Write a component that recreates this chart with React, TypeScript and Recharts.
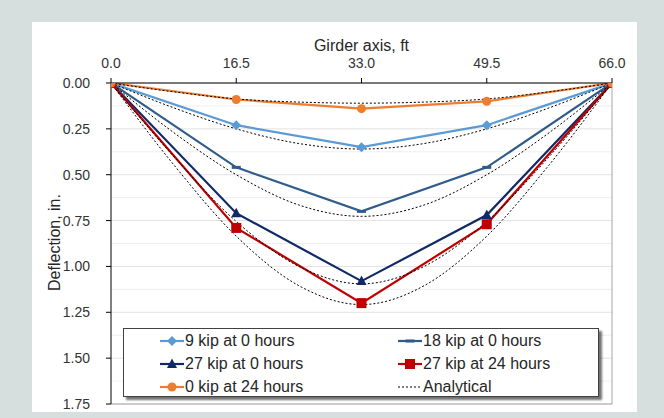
import React from "react";
import { LineChart, Line, XAxis, YAxis, CartesianGrid, ReferenceLine } from "recharts";

// Measured girder positions, ft
const xPos = [0, 16.5, 33, 49.5, 66];
// Measured deflections, in.
const kip9_0h = [0, 0.23, 0.35, 0.23, 0];
const kip18_0h = [0, 0.46, 0.70, 0.46, 0];
const kip27_0h = [0, 0.71, 1.08, 0.72, 0];
const kip27_24h = [0, 0.79, 1.20, 0.77, 0];
const kip0_24h = [0, 0.09, 0.14, 0.10, 0];

// Analytical curves
const anaX = [0, 8.25, 16.5, 24.75, 33, 41.25, 49.5, 57.75, 66];
const ana0_24h = [0, 0.048, 0.087, 0.104, 0.11, 0.104, 0.087, 0.048, 0];
const ana9_0h = [0, 0.135, 0.25, 0.33, 0.36, 0.33, 0.25, 0.135, 0];
const ana18_0h = [0, 0.27, 0.50, 0.665, 0.727, 0.665, 0.50, 0.27, 0];
const ana27_0h = [0, 0.40, 0.755, 1.00, 1.095, 1.00, 0.755, 0.40, 0];
const ana27_24h = [0, 0.445, 0.835, 1.105, 1.208, 1.105, 0.835, 0.445, 0];

const xTicks = [0, 16.5, 33, 49.5, 66];
const yTicks = [0, 0.25, 0.5, 0.75, 1.0, 1.25, 1.5, 1.75];
const yMinor = [0.125, 0.375, 0.625, 0.875, 1.125, 1.375, 1.625];

const toRows = (xs: number[], ys: number[]) => xs.map((x, i) => ({ x, y: ys[i] }));

const FONT = "'Liberation Sans', Arial, Helvetica, sans-serif";

type MarkerKind = "diamond" | "dash" | "triangle" | "square" | "circle" | "none";

const Marker = ({ cx, cy, kind, color }: { cx: number; cy: number; kind: MarkerKind; color: string }) => {
  if (cx == null || cy == null) return null;
  switch (kind) {
    case "diamond":
      return <path d={`M${cx},${cy - 5}L${cx + 5},${cy}L${cx},${cy + 5}L${cx - 5},${cy}Z`} fill={color} />;
    case "dash":
      return <rect x={cx - 4.5} y={cy - 1.5} width={9} height={3} fill={color} />;
    case "triangle":
      return <path d={`M${cx},${cy - 5.5}L${cx + 5},${cy + 4}L${cx - 5},${cy + 4}Z`} fill={color} />;
    case "square":
      return <rect x={cx - 5} y={cy - 5} width={10} height={10} fill={color} />;
    case "circle":
      return <circle cx={cx} cy={cy} r={4.5} fill={color} />;
    default:
      return null;
  }
};

const series = [
  { name: "9 kip at 0 hours", values: kip9_0h, color: "#5b9bd5", marker: "diamond" as MarkerKind },
  { name: "18 kip at 0 hours", values: kip18_0h, color: "#2f5c8a", marker: "dash" as MarkerKind },
  { name: "27 kip at 0 hours", values: kip27_0h, color: "#0f2a66", marker: "triangle" as MarkerKind },
  { name: "27 kip at 24 hours", values: kip27_24h, color: "#c00000", marker: "square" as MarkerKind },
  { name: "0 kip at 24 hours", values: kip0_24h, color: "#ed7d31", marker: "circle" as MarkerKind },
];

const analytical = [ana0_24h, ana9_0h, ana18_0h, ana27_0h, ana27_24h];

const legendItems = [
  { name: "9 kip at 0 hours", color: "#5b9bd5", marker: "diamond" as MarkerKind, dashed: false },
  { name: "18 kip at 0 hours", color: "#2f5c8a", marker: "dash" as MarkerKind, dashed: false },
  { name: "27 kip at 0 hours", color: "#0f2a66", marker: "triangle" as MarkerKind, dashed: false },
  { name: "27 kip at 24 hours", color: "#c00000", marker: "square" as MarkerKind, dashed: false },
  { name: "0 kip at 24 hours", color: "#ed7d31", marker: "circle" as MarkerKind, dashed: false },
  { name: "Analytical", color: "#000000", marker: "none" as MarkerKind, dashed: true },
];

const XTitle = (props: any) => {
  const vb = props.viewBox || {};
  return (
    <text x={vb.x + vb.width / 2} y={vb.y - 2} textAnchor="middle" fontSize={16} fill="#262626" fontFamily={FONT}>
      Girder axis, ft
    </text>
  );
};

const YTitle = (props: any) => {
  const vb = props.viewBox || {};
  const cx = vb.x + 13;
  const cy = vb.y + vb.height / 2 - 1;
  return (
    <text
      x={cx}
      y={cy}
      transform={`rotate(-90, ${cx}, ${cy})`}
      textAnchor="middle"
      dominantBaseline="central"
      fontSize={16}
      fill="#262626"
      fontFamily={FONT}
    >
      Deflection, in.
    </text>
  );
};

export default function App() {
  return (
    <div
      style={{
        position: "absolute",
        left: 0,
        top: 0,
        width: 664,
        height: 418,
        background: "#d7dfde",
        fontFamily: FONT,
        overflow: "hidden",
      }}
    >
      <div style={{ position: "absolute", left: 32, top: 22, width: 605, height: 390, background: "#ffffff" }} />
      <div style={{ position: "absolute", left: 0, top: 0 }}>
        <LineChart width={664} height={418} margin={{ top: 53, right: 52, bottom: 14, left: 41 }}>
          <CartesianGrid vertical={false} stroke="#e2e2e2" />
          {yMinor.map((v) => (
            <ReferenceLine key={`m${v}`} y={v} stroke="#eeeeee" strokeWidth={1} />
          ))}
          <ReferenceLine y={1.75} stroke="#a6a6a6" />
          <ReferenceLine x={66} stroke="#a6a6a6" />
          <XAxis
            type="number"
            dataKey="x"
            orientation="top"
            domain={[0, 66]}
            ticks={xTicks}
            height={30}
            tickFormatter={(v: number) => v.toFixed(1)}
            tick={{ fill: "#333333", fontSize: 14, fontFamily: FONT }}
            tickSize={5}
            tickMargin={10}
            axisLine={{ stroke: "#000000" }}
            tickLine={{ stroke: "#000000" }}
            label={{ content: XTitle }}
            allowDataOverflow
          />
          <YAxis
            type="number"
            dataKey="y"
            reversed
            domain={[0, 1.75]}
            ticks={yTicks}
            width={70}
            tickFormatter={(v: number) => v.toFixed(2)}
            tick={{ fill: "#333333", fontSize: 14, fontFamily: FONT }}
            tickSize={5}
            tickMargin={16}
            axisLine={{ stroke: "#000000" }}
            tickLine={{ stroke: "#000000" }}
            label={{ content: YTitle }}
            allowDataOverflow
          />
          {series.map((s) => (
            <Line
              key={s.name}
              name={s.name}
              data={toRows(xPos, s.values)}
              dataKey="y"
              type="linear"
              stroke={s.color}
              strokeWidth={2.2}
              isAnimationActive={false}
              activeDot={false}
              dot={(p: any) => <Marker key={`${s.name}-${p.index}`} cx={p.cx} cy={p.cy} kind={s.marker} color={s.color} />}
            />
          ))}
          {analytical.map((vals, i) => (
            <Line
              key={`ana${i}`}
              name={i === 0 ? "Analytical" : `Analytical ${i}`}
              data={toRows(anaX, vals)}
              dataKey="y"
              type="monotone"
              stroke="#000000"
              strokeWidth={1}
              strokeDasharray="2 2"
              dot={false}
              activeDot={false}
              isAnimationActive={false}
            />
          ))}
        </LineChart>
      </div>
      <div
        style={{
          position: "absolute",
          left: 123,
          top: 328,
          width: 474,
          height: 67,
          background: "#ffffff",
          border: "1px solid #404040",
          boxShadow: "3px 3px 2px rgba(0,0,0,0.55)",
        }}
      >
        {legendItems.map((it, i) => {
          const col = i % 2;
          const row = Math.floor(i / 2);
          return (
            <div
              key={it.name}
              style={{
                position: "absolute",
                left: col === 0 ? 36 : 274,
                top: 1 + row * 23,
                height: 22,
                display: "flex",
                alignItems: "center",
                whiteSpace: "nowrap",
                fontSize: 16,
                color: "#262626",
              }}
            >
              <svg width={24} height={14} style={{ display: "block" }}>
                <line
                  x1={0}
                  y1={7}
                  x2={24}
                  y2={7}
                  stroke={it.color}
                  strokeWidth={it.dashed ? 1 : 2.2}
                  strokeDasharray={it.dashed ? "2 2" : undefined}
                />
                <Marker cx={12} cy={7} kind={it.marker} color={it.color} />
              </svg>
              <span style={{ marginLeft: 1 }}>{it.name}</span>
            </div>
          );
        })}
      </div>
    </div>
  );
}
